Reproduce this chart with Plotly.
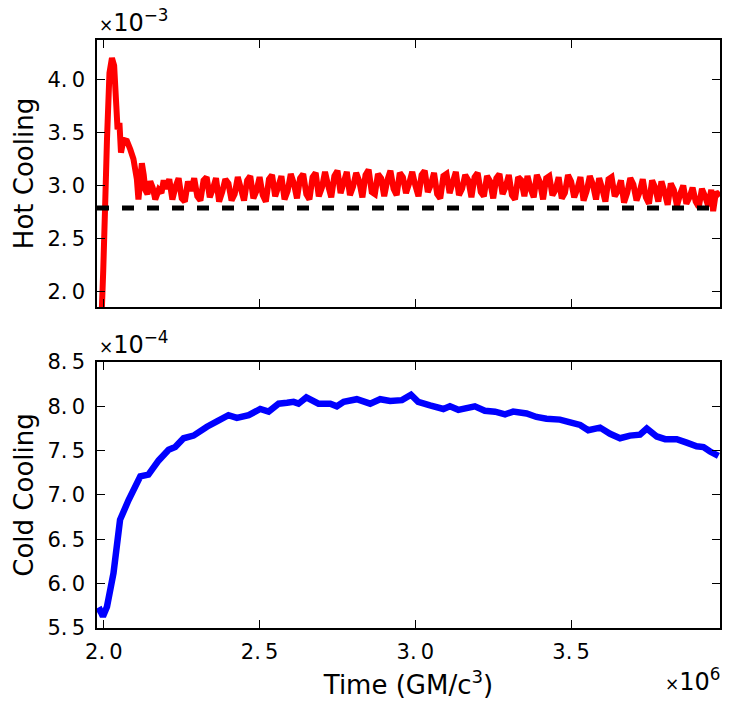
import plotly.graph_objects as go

# ---- data (time in units of 1e6 GM/c^3) ----
hot_t = [1.978, 1.990, 1.998, 2.004, 2.010, 2.018, 2.026, 2.033, 2.040, 2.044, 2.050, 2.055,
         2.063, 2.074, 2.085, 2.095, 2.106, 2.111, 2.117, 2.122, 2.128, 2.133, 2.140,
         2.149, 2.157, 2.165, 2.176, 2.185, 2.192,
         2.200, 2.210, 2.220, 2.230, 2.240, 2.250, 2.260, 2.270, 2.280, 2.290,
         2.300, 2.310, 2.320, 2.330, 2.340, 2.350, 2.360, 2.370, 2.380, 2.390,
         2.400, 2.410, 2.420, 2.430, 2.440, 2.450, 2.460, 2.470, 2.480, 2.490,
         2.500, 2.510, 2.520, 2.530, 2.540, 2.550, 2.560, 2.570, 2.580, 2.590,
         2.600, 2.610, 2.620, 2.630, 2.640, 2.650, 2.660, 2.670, 2.680, 2.690,
         2.700, 2.710, 2.720, 2.730, 2.740, 2.750, 2.760, 2.770, 2.780, 2.790,
         2.800, 2.810, 2.820, 2.830, 2.840, 2.850, 2.860, 2.870, 2.880, 2.890,
         2.900, 2.910, 2.920, 2.930, 2.940, 2.950, 2.960, 2.970, 2.980, 2.990,
         3.000, 3.010, 3.020, 3.030, 3.040, 3.050, 3.060, 3.070, 3.080, 3.090,
         3.100, 3.110, 3.120, 3.130, 3.140, 3.150, 3.160, 3.170, 3.180, 3.190,
         3.200, 3.210, 3.220, 3.230, 3.240, 3.250, 3.260, 3.270, 3.280, 3.290,
         3.300, 3.310, 3.320, 3.330, 3.340, 3.350, 3.360, 3.370, 3.380, 3.390,
         3.400, 3.410, 3.420, 3.430, 3.440, 3.450, 3.460, 3.470, 3.480, 3.490,
         3.500, 3.510, 3.520, 3.530, 3.540, 3.550, 3.560, 3.570, 3.580, 3.590,
         3.600, 3.610, 3.620, 3.630, 3.640, 3.650, 3.660, 3.670, 3.680, 3.690,
         3.700, 3.710, 3.720, 3.730, 3.740, 3.750, 3.760, 3.770, 3.780, 3.790,
         3.800, 3.810, 3.820, 3.830, 3.840, 3.850, 3.860, 3.870, 3.880, 3.890,
         3.900, 3.910, 3.920, 3.930, 3.940, 3.950, 3.956, 3.965, 3.978]
# hot cooling in units of 1e-3
hot_v = [1.20, 1.55, 2.20, 2.80, 3.43, 4.06, 4.20, 4.13, 3.75, 3.53, 3.59, 3.31,
         3.43, 3.42, 3.34, 3.25, 3.06, 2.87, 3.05, 3.21, 3.10, 2.96, 2.92,
         3.04, 2.98, 2.87, 2.96, 2.93, 3.05,
         2.97, 3.06, 2.87, 2.99, 3.07, 2.88, 2.85, 3.04, 2.95, 3.07,
         2.90, 2.86, 3.05, 3.08, 2.89, 2.97, 3.07, 2.85, 2.94, 3.06,
         3.02, 2.86, 2.92, 3.08, 2.97, 2.86, 3.05, 3.09, 2.88, 2.95,
         3.08, 2.91, 2.85, 3.06, 3.10, 2.90, 2.99, 3.09, 2.87, 2.95,
         3.11, 3.02, 2.88, 3.07, 3.11, 2.92, 2.87, 3.08, 3.12, 2.90,
         2.98, 3.13, 3.00, 2.89, 3.09, 3.14, 2.93, 3.03, 3.13, 2.91,
         2.99, 3.12, 3.04, 2.89, 3.10, 3.15, 2.94, 2.92, 3.11, 3.07,
         2.90, 3.05, 3.14, 2.97, 2.91, 3.12, 3.08, 2.93, 3.02, 3.13,
         3.00, 2.90, 3.10, 3.14, 2.94, 3.01, 3.12, 2.92, 2.88, 3.09,
         3.11, 2.93, 3.03, 3.13, 2.91, 2.97, 3.10, 3.05, 2.89, 3.08,
         3.12, 2.94, 2.90, 3.09, 3.04, 2.88, 3.07, 3.11, 2.92, 2.99,
         3.10, 2.91, 2.87, 3.08, 3.05, 2.90, 3.09, 2.97, 2.89, 3.10,
         3.03, 2.87, 3.07, 3.09, 2.91, 2.96, 3.08, 2.88, 2.93, 3.10,
         3.04, 2.89, 2.97, 3.08, 2.86, 2.95, 3.09, 3.01, 2.87, 3.07,
         2.97, 2.85, 3.06, 3.08, 2.90, 2.95, 3.05, 2.84, 2.93, 3.07,
         3.01, 2.86, 2.94, 3.06, 2.89, 2.83, 3.05, 2.98, 2.85, 3.04,
         2.94, 2.82, 3.02, 2.96, 2.81, 2.92, 3.00, 2.83, 2.89, 2.98,
         2.85, 2.80, 2.97, 2.90, 2.81, 2.96, 2.76, 2.94, 2.90]

ref_level = 2.79  # dashed reference, units of 1e-3

cold_t = [1.978, 1.988, 1.997, 2.010, 2.031, 2.052, 2.079, 2.117, 2.143, 2.176, 2.208,
          2.229, 2.256, 2.288, 2.331, 2.363, 2.400, 2.427, 2.465, 2.502, 2.529, 2.561,
          2.588, 2.609, 2.625, 2.650, 2.689, 2.727, 2.748, 2.770, 2.812, 2.855, 2.887,
          2.919, 2.957, 2.986, 3.009, 3.047, 3.090, 3.111, 3.138, 3.191, 3.223, 3.256,
          3.288, 3.314, 3.357, 3.389, 3.421, 3.464, 3.497, 3.529, 3.555, 3.593, 3.625,
          3.657, 3.689, 3.721, 3.743, 3.775, 3.802, 3.839, 3.871, 3.903, 3.925, 3.946,
          3.973]
# cold cooling in units of 1e-4
cold_v = [5.68, 5.70, 5.63, 5.74, 6.12, 6.72, 6.94, 7.21, 7.23, 7.39, 7.51,
          7.54, 7.64, 7.67, 7.77, 7.83, 7.90, 7.87, 7.90, 7.97, 7.94, 8.03,
          8.04, 8.05, 8.03, 8.10, 8.03, 8.03, 8.00, 8.05, 8.08, 8.03, 8.08,
          8.06, 8.07, 8.13, 8.05, 8.01, 7.97, 8.00, 7.96, 8.00, 7.95, 7.94,
          7.91, 7.94, 7.92, 7.88, 7.86, 7.85, 7.82, 7.79, 7.73, 7.76, 7.69,
          7.64, 7.67, 7.68, 7.75, 7.66, 7.63, 7.63, 7.59, 7.55, 7.54, 7.49,
          7.44]

x_ticks = [2.0, 2.5, 3.0, 3.5]
hot_ticks = [2.0, 2.5, 3.0, 3.5, 4.0]
cold_ticks = [5.5, 6.0, 6.5, 7.0, 7.5, 8.0, 8.5]

x_range = [1.978, 3.978]
hot_range = [1.858, 4.37]
cold_range = [5.5, 8.5]

FONT = "DejaVu Sans"
TICK_SIZE = 21
TITLE_SIZE = 26


def lab(v):
    s = f"{v:.1f}"
    return s.replace(".", ".\u2009")


fig = go.Figure()
fig.add_trace(go.Scatter(x=hot_t, y=hot_v, mode="lines",
                         line=dict(color="#ff0000", width=6, simplify=False),
                         xaxis="x", yaxis="y"))
fig.add_trace(go.Scatter(x=x_range, y=[ref_level, ref_level], mode="lines",
                         line=dict(color="black", width=5, dash="12px,13px"),
                         xaxis="x", yaxis="y"))
fig.add_trace(go.Scatter(x=cold_t, y=cold_v, mode="lines",
                         line=dict(color="#0000ff", width=6.5, simplify=False),
                         xaxis="x2", yaxis="y2"))

axis_common = dict(showline=True, linecolor="black", linewidth=1.5, mirror="ticks",
                   ticks="inside", ticklen=8, tickwidth=1, tickcolor="black",
                   showgrid=False, zeroline=False,
                   tickfont=dict(family=FONT, size=TICK_SIZE, color="black"))

fig.update_layout(
    width=739, height=706,
    margin=dict(l=97, r=19, t=40, b=78),
    paper_bgcolor="white", plot_bgcolor="white",
    showlegend=False,
    font=dict(family=FONT, color="black"),
    xaxis=dict(domain=[0, 1], range=x_range, tickvals=x_ticks, showticklabels=False,
               anchor="y", **axis_common),
    yaxis=dict(domain=[0.5459, 1], range=hot_range, tickvals=hot_ticks,
               ticktext=[lab(v) for v in hot_ticks], anchor="x", ticklabelstandoff=6,
               title=dict(text="Hot Cooling", font=dict(family=FONT, size=TITLE_SIZE), standoff=6),
               **axis_common),
    xaxis2=dict(domain=[0, 1], range=x_range, tickvals=x_ticks,
                ticktext=[lab(v) for v in x_ticks], anchor="y2", ticklabelstandoff=4,
                title=dict(text="Time (GM/c<sup>3</sup>)", font=dict(family=FONT, size=TITLE_SIZE), standoff=13),
                **axis_common),
    yaxis2=dict(domain=[0, 0.4524], range=cold_range, tickvals=cold_ticks,
                ticktext=[lab(v) for v in cold_ticks], anchor="x2", ticklabelstandoff=6,
                title=dict(text="Cold Cooling", font=dict(family=FONT, size=TITLE_SIZE), standoff=6),
                **axis_common),
)

exp_font = dict(family=FONT, size=24, color="black")
fig.add_annotation(text="<span style='font-size:17px'>×</span>10<sup>−3</sup>",
                   xref="paper", yref="paper", x=0.0, y=1.0,
                   xanchor="left", yanchor="bottom", showarrow=False, yshift=1,
                   font=exp_font)
fig.add_annotation(text="<span style='font-size:17px'>×</span>10<sup>−4</sup>",
                   xref="paper", yref="paper", x=0.0, y=0.4524,
                   xanchor="left", yanchor="bottom", showarrow=False, yshift=1,
                   font=exp_font)
fig.add_annotation(text="<span style='font-size:17px'>×</span>10<sup>6</sup>",
                   xref="paper", yref="paper", x=1.0, y=0.0,
                   xanchor="right", yanchor="top", showarrow=False, yshift=-34, xshift=2,
                   font=exp_font)

fig.write_html("out.html")
